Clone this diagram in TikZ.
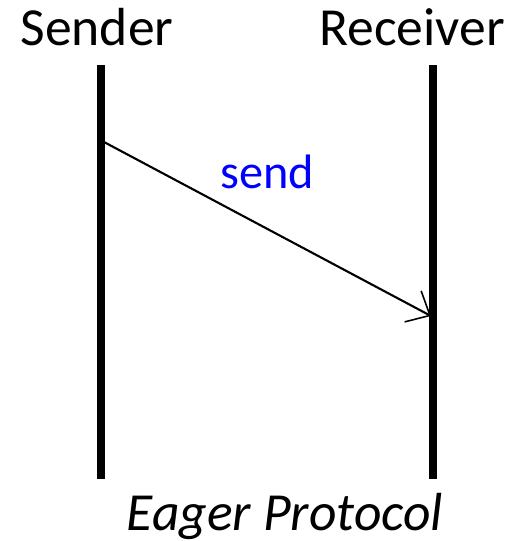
\documentclass[tikz,border=0pt]{standalone}
\usepackage{fontspec}
\setmainfont{Carlito}
\usetikzlibrary{arrows.meta, positioning}
\definecolor{msgblue}{HTML}{0000FF}
\tikzset{
  every picture/.style={line cap=butt, line join=miter},
  lifeline/.style={line width=8pt*0.5669},
  msg/.style={-{Straight Barb[length=11pt, width=20pt, line width=0.9pt]}, line width=1.2pt},
  party/.style={anchor=base, inner sep=0pt, font=\fontsize{30.5}{36}\selectfont},
  msglabel/.style={anchor=base, inner sep=0pt, text=msgblue, font=\fontsize{27.5}{32}\selectfont},
}
\begin{document}
\begin{tikzpicture}[x=0.02cm, y=-0.02cm]
  \useasboundingbox (0,0) rectangle (517,541);
  % the two parties
  \node[party] (sender) at (97,45) {Sender};
  \node[party] (receiver) at (412,45) {Receiver};
  % lifelines
  \coordinate (stop) at (101,65);
  \coordinate (sbot) at (101,479);
  \coordinate (rtop) at (433,65);
  \coordinate (rbot) at (433,479);
  \draw[lifeline] (stop) -- (sbot);
  \draw[lifeline] (rtop) -- (rbot);
  % the message
  \coordinate (msgfrom) at (104,142);
  \coordinate (msgto) at (431,316);
  \draw[msg] (msgfrom) -- (msgto);
  \node[msglabel] (sendlbl) at (267,188) {send};
  % caption
  \node[party, font=\fontsize{30.5}{36}\selectfont\itshape] (caption) at (285,530) {Eager Protocol};
\end{tikzpicture}
\end{document}
